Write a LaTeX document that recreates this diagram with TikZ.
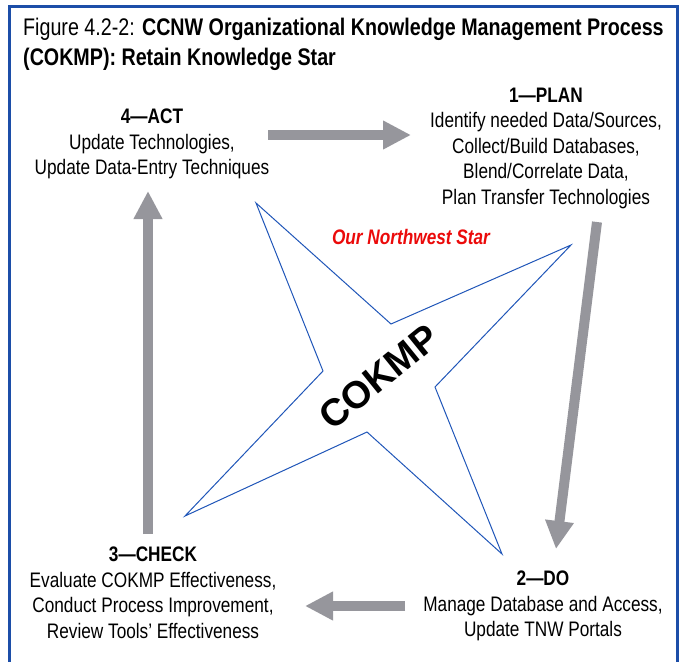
\documentclass[tikz,border=0pt]{standalone}
\usepackage{fontspec}
\setmainfont[FakeStretch=0.82]{Liberation Sans}
\newfontfamily\widefont{Liberation Sans}
\usetikzlibrary{arrows.meta}
\definecolor{frameblue}{RGB}{28,78,168}
\definecolor{starblue}{RGB}{32,86,184}
\definecolor{arrowgray}{RGB}{150,150,156}
\definecolor{starred}{RGB}{235,10,10}
\tikzset{x=1pt, y=-1pt, % One unit is one pixel of the figure, y runs down
every node/.style={inner sep=0pt},
step text/.style={ % Text of each of the four steps
align=center,
font=\fontsize{21}{25.5}\selectfont},
title text/.style={
align=left,
font=\fontsize{24}{30}\selectfont},
flow/.style={ % Broad gray arrows from step to step
draw=arrowgray,
line width=10pt,
-{Triangle[width=27pt,length=28pt]}},
star line/.style={ % Outline of the star
draw=starblue,
line width=1pt,
line join=miter}}

\begin{document}
\begin{tikzpicture}
				\useasboundingbox (0,0) rectangle (681,662);
				\draw[frameblue, line width=3pt] (9,662) -- (9,6) -- (677,6) -- (677,662);

				\node[title text, anchor=north west] (title) at (23,18) {Figure 4.2-2: \textbf{CCNW Organizational Knowledge Management Process}\\\textbf{(COKMP): Retain Knowledge Star}};

				\node[step text] (plan) at (546,148) {\textbf{1—PLAN}\\Identify needed Data/Sources,\\Collect/Build Databases,\\Blend/Correlate Data,\\Plan Transfer Technologies};
				\node[step text] (act) at (152,144) {\textbf{4—ACT}\\Update Technologies,\\Update Data-Entry Techniques};
				\node[step text] (check) at (153,593) {\textbf{3—CHECK}\\Evaluate COKMP Effectiveness,\\Conduct Process Improvement,\\Review Tools’ Effectiveness};
				\node[step text] (do) at (543,606) {\textbf{2—DO}\\Manage Database and Access,\\Update TNW Portals};

				% star points and inner corners
				\coordinate (tipNW) at (256,203);
				\coordinate (inN) at (391,324);
				\coordinate (tipNE) at (571,245);
				\coordinate (inE) at (435,387);
				\coordinate (tipSE) at (502,554);
				\coordinate (inS) at (367,432);
				\coordinate (tipSW) at (185,516);
				\coordinate (inW) at (323,371);
				\draw[star line] (tipNW) -- (inN) -- (tipNE) -- (inE) -- (tipSE) -- (inS) -- (tipSW) -- (inW) -- cycle;

				\node[text=starred, font=\fontsize{21}{25}\selectfont\bfseries\itshape] (motto) at (411,237) {Our Northwest Star};
				\node[rotate=39, font=\widefont\fontsize{38}{42}\selectfont\bfseries] (cokmp) at (379,377) {COKMP};

				% arrow ends
				\coordinate (actOut) at (268,135);
				\coordinate (planIn) at (411,135);
				\coordinate (planOut) at (597,222);
				\coordinate (doIn) at (556,549);
				\coordinate (doOut) at (405,606);
				\coordinate (checkIn) at (305,606);
				\coordinate (checkOut) at (148,534);
				\coordinate (actIn) at (148,191);

				\draw (actOut) edge[flow] (planIn);
				\draw (planOut) edge[flow] (doIn);
				\draw (doOut) edge[flow] (checkIn);
				\draw (checkOut) edge[flow] (actIn);
			\end{tikzpicture}
\end{document}
